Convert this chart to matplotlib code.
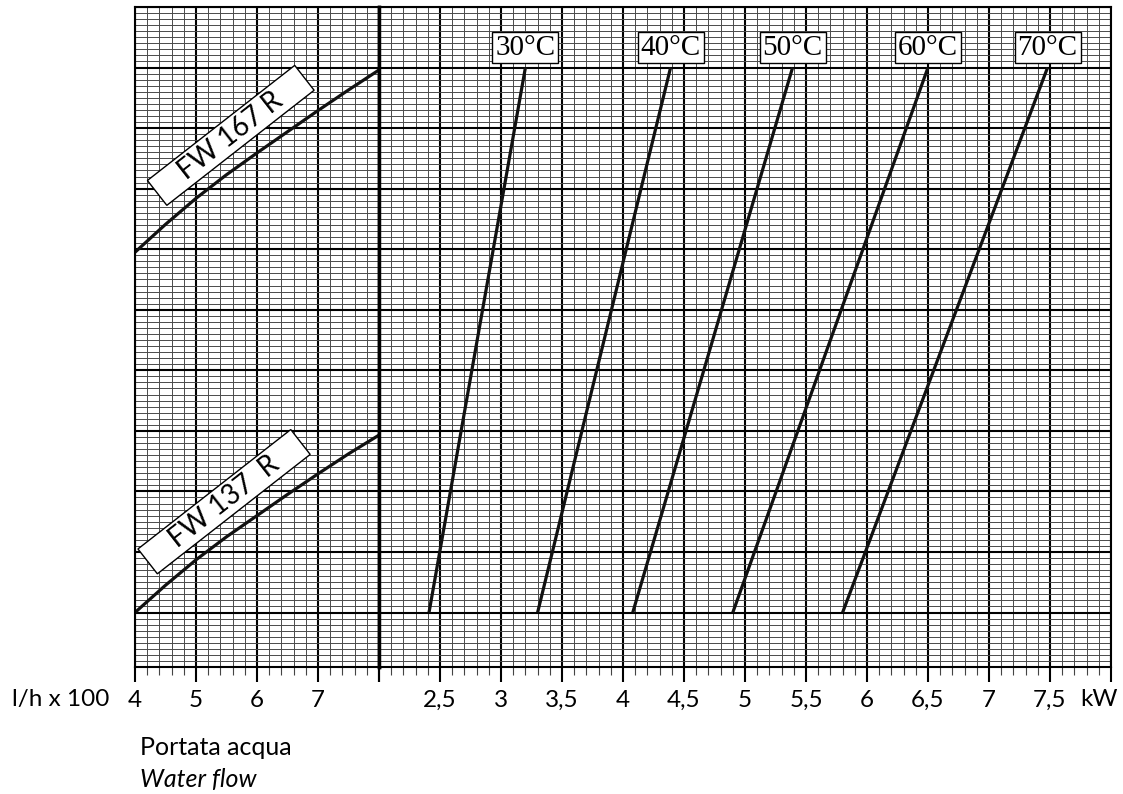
import numpy as np
import matplotlib.pyplot as plt

# water flow (l/h x 100) vs. curves of the two models
flow = [4.0, 4.5, 5.0, 5.5, 6.0, 6.5, 7.0, 7.5, 8.0]
fw137 = [0.0, 0.45, 0.87, 1.25, 1.60, 1.95, 2.29, 2.62, 2.93]
fw167 = [5.95, 6.41, 6.84, 7.23, 7.59, 7.94, 8.29, 8.63, 8.96]

# kW lines for each water temperature (bottom / top end)
temps = ["30°C", "40°C", "50°C", "60°C", "70°C"]
kw_low = [2.41, 3.30, 4.08, 4.90, 5.80]
kw_high = [3.20, 4.39, 5.39, 6.50, 7.48]
y_low = 0.0
y_high = 9.0

flow_ticks = [4, 5, 6, 7, 8]
flow_labels = ["4", "5", "6", "7", ""]
kw_ticks = [2, 2.5, 3, 3.5, 4, 4.5, 5, 5.5, 6, 6.5, 7, 7.5, 8]
kw_labels = ["", "2,5", "3", "3,5", "4", "4,5", "5", "5,5", "6", "6,5", "7", "7,5", ""]

W, H = 1123, 794
sans = "Lato"
serif = "Liberation Serif"
fs = 17.5

fig = plt.figure(figsize=(W / 100, H / 100), dpi=100)
axl = fig.add_axes([135 / W, 127 / H, 244 / W, 660 / H])
axr = fig.add_axes([379 / W, 127 / H, 732 / W, 660 / H])

for ax in (axl, axr):
    ax.set_ylim(-0.9, 10)
    ax.set_yticks(np.arange(0, 11, 1))
    ax.set_yticks(np.round(np.arange(-0.9, 10.01, 0.1), 2), minor=True)
    ax.grid(which="major", color="black", lw=1.5)
    ax.grid(which="minor", color="#4a4a4a", lw=0.7)
    ax.tick_params(axis="y", which="both", length=0, labelleft=False)
    ax.tick_params(axis="x", which="major", length=11, width=1.5, direction="out", pad=5.5)
    ax.tick_params(axis="x", which="minor", length=6, width=0.8, color="#444444", direction="out")
    for s in ax.spines.values():
        s.set_linewidth(1.5)

axl.set_xlim(4, 8)
axl.set_xticks(flow_ticks)
axl.set_xticklabels(flow_labels, fontfamily=sans, fontsize=fs)
axl.set_xticks(np.round(np.arange(4, 8.01, 0.2), 2), minor=True)
axl.spines["right"].set_linewidth(2.5)

axr.set_xlim(2, 8)
axr.set_xticks(kw_ticks)
axr.set_xticklabels(kw_labels, fontfamily=sans, fontsize=fs)
axr.set_xticks(np.round(np.arange(2, 8.01, 0.1), 2), minor=True)
axr.spines["left"].set_linewidth(2.5)

axl.plot(flow, fw137, color="#111111", lw=2.3, solid_capstyle="butt")
axl.plot(flow, fw167, color="#111111", lw=2.3, solid_capstyle="butt")

box = dict(boxstyle="square,pad=0.1", fc="white", ec="black", lw=1)
axl.text(5.46, 1.83, "    FW 137  R    ", rotation=38, rotation_mode="anchor",
         ha="center", va="center", fontsize=20, fontfamily=sans, bbox=box, zorder=5)
axl.text(5.57, 7.88, "    FW 167 R    ", rotation=38, rotation_mode="anchor",
         ha="center", va="center", fontsize=20, fontfamily=sans, bbox=box, zorder=5)

for t, lo, hi in zip(temps, kw_low, kw_high):
    axr.plot([lo, hi], [y_low, y_high], color="#111111", lw=2.3, solid_capstyle="butt")
    axr.annotate(t, (hi, y_high), xytext=(0, 14.4), textcoords="offset points",
                 ha="center", va="center", fontsize=21, fontfamily=serif,
                 bbox=dict(boxstyle="square,pad=0.1", fc="white", ec="black", lw=1), zorder=5)

fig.text(12 / W, 1 - 706 / H, "l/h x 100", fontsize=fs, fontfamily=sans, va="baseline")
fig.text(1080 / W, 1 - 706 / H, "kW", fontsize=fs, fontfamily=sans, va="baseline")
fig.text(140 / W, 1 - 755 / H, "Portata acqua", fontsize=18, fontfamily=sans, va="baseline")
fig.text(140 / W, 1 - 787 / H, "Water flow", fontsize=18, fontfamily=sans, style="italic", va="baseline")

fig.savefig("out.png", dpi=100)
